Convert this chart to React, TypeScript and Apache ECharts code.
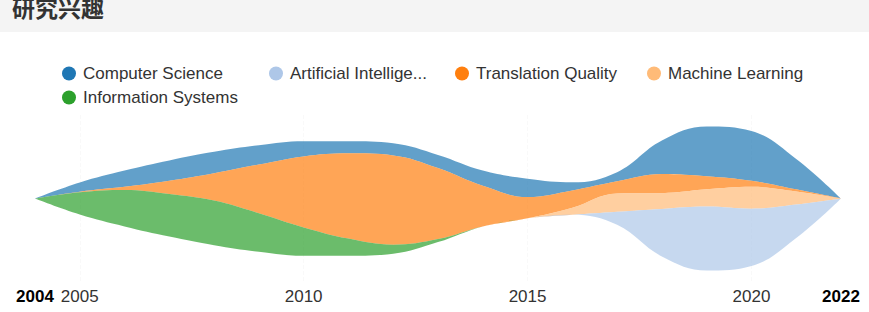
import React, { useEffect, useRef } from 'react';
import * as echarts from 'echarts';

const titleText = '研究兴趣';
const years = [2004, 2005, 2006, 2007, 2008, 2009, 2010, 2011, 2012, 2013, 2014, 2015, 2016, 2017, 2018, 2019, 2020, 2021, 2022];
const layerNames = ['Computer Science', 'Translation Quality', 'Machine Learning', 'Artificial Intelligence', 'Information Systems'];
const computerScience = [0, 9, 16, 20, 21, 19, 15, 12, 12, 13, 15, 18, 8, 9, 33, 49, 49, 30, 0];
const translationQuality = [0, 0.5, 3, 13, 27, 48, 70, 84, 88, 70, 40, 21, 17, 12, 19, 13, 6, 2, 0];
const machineLearning = [0, 0, 0, 0, 0, 0, 0, 0, 0, 0, 0, 0, 7, 18, 15.5, 17, 21.5, 13, 0];
const artificialIntelligence = [0, 0, 0, 0, 0, 0, 0, 0, 0, 0, 0, 0, 0, 13, 47, 63, 56.5, 33, 0];
const informationSystems = [0, 22, 36, 42, 44, 38, 28, 17, 9, 3, 0, 0, 0, 0, 0, 0, 0, 0, 0];
const layerValues = [computerScience, translationQuality, machineLearning, artificialIntelligence, informationSystems];
const layerColors = ['#1f77b4', '#ff7f0e', '#ffbb78', '#aec7e8', '#2ca02c'];
const legendNames = ['Computer Science', 'Artificial Intelligence', 'Translation Quality', 'Machine Learning', 'Information Systems'];
const legendLabels = ['Computer Science', 'Artificial Intellige...', 'Translation Quality', 'Machine Learning', 'Information Systems'];
const legendLefts = [62, 269, 455, 647, 62];
const legendTops = [65, 65, 65, 65, 89];
const labelYears = [2005, 2010, 2015, 2020];
const boldYears = [2004, 2022];
const gridYears = [2005, 2010, 2015, 2020];

const FONT = '"Liberation Sans", Arial, sans-serif';

export default function App() {
  const ref = useRef<HTMLDivElement>(null);
  useEffect(() => {
    if (!ref.current) return;
    const chart = echarts.init(ref.current, undefined, { renderer: 'svg' });
    const data: any[] = [];
    layerNames.forEach((name, li) => {
      years.forEach((y, i) => data.push([y, layerValues[li][i], name]));
    });
    const colorOf = (n: string) => layerColors[layerNames.indexOf(n)];
    const legends = legendNames.map((n, i) => ({
      data: [{ name: n, itemStyle: { color: colorOf(n), opacity: 1 } }],
      left: legendLefts[i],
      top: legendTops[i],
      padding: 0,
      itemWidth: 18,
      itemHeight: 14,
      icon: 'path://M50,0A50,50,0,1,1,50,100A50,50,0,1,1,50,0Z',
      selectedMode: false,
      formatter: () => legendLabels[i],
      textStyle: { fontSize: 17, color: '#333', fontFamily: FONT },
    }));
    chart.setOption({
      animation: false,
      color: layerColors,
      graphic: [
        { type: 'rect', left: 0, top: 0, shape: { width: 869, height: 32 }, style: { fill: '#f4f4f4' }, z: -10 },
      ],
      title: {
        text: titleText,
        left: 12,
        top: -5,
        padding: 0,
        textStyle: { fontSize: 23, fontWeight: 'bold', color: '#333', fontFamily: '"Noto Sans CJK SC", sans-serif' },
      },
      legend: legends,
      singleAxis: {
        type: 'value',
        min: 2004,
        max: 2022,
        interval: 1,
        left: 35,
        right: 28,
        top: 115,
        bottom: 30,
        axisLine: { show: false },
        axisTick: { show: false },
        axisLabel: {
          margin: 6,
          fontSize: 17,
          color: '#333',
          fontFamily: FONT,
          formatter: (v: number) =>
            boldYears.includes(v) ? `{b|${v}}` : labelYears.includes(v) ? String(v) : '',
          rich: { b: { fontWeight: 'bold', color: '#000', fontSize: 17, fontFamily: FONT } },
        },
        splitLine: {
          show: true,
          lineStyle: {
            width: 1,
            color: years.map((y) => (gridYears.includes(y) ? '#e0e0e0' : 'rgba(0,0,0,0)')),
          },
        },
      },
      series: [
        {
          type: 'themeRiver',
          boundaryGap: [11.5, 11.5],
          label: { show: false },
          itemStyle: { opacity: 0.7 },
          emphasis: { disabled: true },
          data,
        },
      ],
    });
    return () => chart.dispose();
  }, []);
  return (
    <div
      ref={ref}
      style={{ position: 'absolute', left: 0, top: 0, width: 869, height: 312, background: '#fff' }}
    />
  );
}
